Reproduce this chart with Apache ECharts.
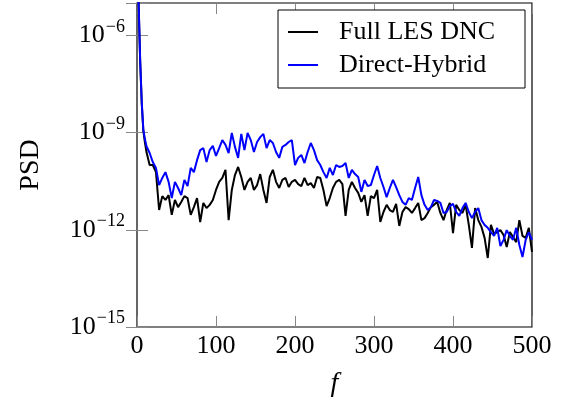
<!DOCTYPE html>
<html>
<head>
<meta charset="utf-8">
<script src="https://cdn.jsdelivr.net/npm/echarts@6/dist/echarts.min.js"></script>
<style>
html,body{margin:0;padding:0;background:#fff;}
#chart{width:569px;height:405px;}
</style>
</head>
<body>
<div id="chart"></div>
<script>
// Frequency samples
var freq = [0,2,4,6,8,10,12,16,20,24,28,32,36,40,44,48,52,56,60,64,68,72,76,80,84,88,92,96,100,104,108,112,116,120,124,128,132,136,140,144,148,152,156,160,164,168,172,176,180,184,188,192,196,200,204,208,212,216,220,224,228,232,236,240,244,248,252,256,260,264,268,272,276,280,284,288,292,296,300,304,308,312,316,320,324,328,332,336,340,344,348,352,356,360,364,368,372,376,380,384,388,392,396,400,404,408,412,416,420,424,428,432,436,440,444,448,452,456,460,464,468,472,476,480,484,488,492,496,500];

// log10(PSD), Full LES DNC
var fullLesDncLog10 = [-4.3,-5.0,-6.8,-8.1,-8.95,-9.3,-9.6,
-10.00,-10.00,-10.22,-11.39,-10.96,-11.08,-10.93,-11.54,-11.08,-11.30,-11.14,-10.96,-11.02,-11.54,-11.30,-11.02,-11.76,-11.17,-11.33,-11.23,-11.08,
-10.77,-10.52,-10.40,-10.15,-11.70,-10.77,-10.31,-10.06,-10.37,-10.77,-10.52,-10.40,-10.77,-10.62,-10.28,-10.77,-11.17,-10.37,-10.15,-10.52,-10.71,-10.46,-10.40,-10.68,-10.52,
-10.46,-10.59,-10.65,-10.40,-10.62,-10.56,-10.71,-10.37,-10.40,-10.77,-11.27,-11.02,-10.71,-10.52,-10.46,-10.59,-11.57,-10.77,-10.52,-10.71,-10.86,-11.14,-10.93,-11.57,-10.96,
-11.02,-10.77,-11.76,-11.45,-11.23,-11.39,-11.45,-11.20,-11.88,-11.45,-11.30,-11.36,-11.48,-11.33,-11.17,-11.70,-11.64,-11.48,-11.30,-11.23,-11.14,-11.48,-11.70,-11.39,-11.17,
-12.10,-11.23,-11.39,-11.48,-11.23,-11.85,-12.56,-11.33,-11.70,-11.91,-12.25,-12.87,-11.85,-12.13,-12.07,-12.01,-12.16,-12.53,-12.07,-12.22,-12.38,-11.70,-12.19,-12.25,-11.94,-12.68];

// log10(PSD), Direct-Hybrid
var directHybridLog10 = [-4.3,-4.95,-6.75,-8.05,-8.9,-9.2,-9.42,
-9.63,-9.91,-10.09,-10.62,-10.40,-10.22,-10.52,-11.02,-10.52,-10.71,-10.93,-10.46,-10.65,-10.09,-10.22,-9.85,-9.54,-9.48,-9.91,-9.54,-9.41,
-9.72,-9.48,-9.23,-9.38,-9.63,-9.01,-9.44,-9.78,-9.04,-9.54,-9.01,-9.23,-9.60,-9.29,-9.14,-9.04,-9.48,-9.23,-9.32,-9.60,-9.78,-9.44,-9.38,-9.29,-9.23,
-10.00,-9.78,-9.69,-9.94,-9.60,-9.32,-9.54,-9.85,-10.00,-10.22,-10.40,-10.09,-10.31,-10.00,-10.06,-10.03,-9.94,-10.40,-10.15,-10.28,-10.37,-10.83,-10.46,-10.65,-10.62,
-10.31,-10.03,-10.40,-10.68,-10.99,-10.71,-10.46,-10.68,-10.93,-11.14,-11.23,-11.02,-11.08,-10.71,-10.37,-10.93,-11.23,-11.39,-11.30,-11.08,-11.11,-11.17,-11.48,-11.45,-11.27,
-11.20,-11.45,-11.57,-11.33,-11.17,-11.45,-11.64,-11.45,-11.33,-11.70,-11.85,-11.94,-12.07,-12.19,-11.94,-12.50,-12.31,-12.01,-12.19,-12.31,-11.94,-12.47,-12.84,-12.31,-12.07,-12.31];

var xTicks = [0,100,200,300,400,500];
var yTickExponents = [-15,-12,-9,-6];
var seriesNames = ['Full LES DNC','Direct-Hybrid'];

function pairs(logs){
  return freq.map(function(f,i){ return [f, Math.pow(10, logs[i])]; });
}

var FONT = "'Liberation Serif','Times New Roman',serif";
var TICK_COLOR = '#888';

var chart = echarts.init(document.getElementById('chart'), null, {renderer:'canvas'});
chart.setOption({
  animation:false,
  backgroundColor:'#fff',
  grid:{left:137,right:37,top:3,bottom:78,show:true,borderColor:'#000',borderWidth:1.2,backgroundColor:'transparent',containLabel:false},
  legend:{
    data:seriesNames,
    orient:'vertical',
    left:278, top:10,
    padding:[9,14,10,10],
    itemGap:7,
    icon:'rect',
    itemWidth:30, itemHeight:2,
    backgroundColor:'#fff',
    borderColor:'#000', borderWidth:1, borderRadius:0,
    textStyle:{fontFamily:FONT,fontSize:26,color:'#000',width:172,lineHeight:26,padding:[0,0,0,16]}
  },
  xAxis:[{
    type:'value', min:xTicks[0], max:xTicks[xTicks.length-1], interval:100,
    position:'bottom',
    name:'f', nameLocation:'middle', nameGap:43,
    nameTextStyle:{fontFamily:FONT,fontSize:28,fontStyle:'italic',color:'#000'},
    axisLine:{show:false},
    axisTick:{show:true,inside:true,length:11,lineStyle:{color:TICK_COLOR,width:1}},
    axisLabel:{fontFamily:FONT,fontSize:26,color:'#000',margin:6},
    splitLine:{show:false}
  },{
    type:'value', min:xTicks[0], max:xTicks[xTicks.length-1], interval:100,
    position:'top',
    axisLine:{show:false},
    axisTick:{show:true,inside:true,length:11,lineStyle:{color:TICK_COLOR,width:1}},
    axisLabel:{show:false},
    splitLine:{show:false}
  }],
  yAxis:[{
    type:'log', logBase:10, min:1e-15, max:1e-5, interval:3,
    position:'left',
    name:'PSD', nameLocation:'middle', nameGap:92, nameRotate:90,
    nameTextStyle:{fontFamily:FONT,fontSize:28,color:'#000'},
    axisLine:{show:false},
    axisTick:{show:true,inside:true,length:11,lineStyle:{color:TICK_COLOR,width:1}},
    axisLabel:{
      margin:12,
      formatter:function(v){
        var e = Math.round(Math.log10(v));
        if (yTickExponents.indexOf(e) < 0) return '';
        return '{b|10}{s|\u2212' + (-e) + '}';
      },
      rich:{
        b:{fontFamily:FONT,fontSize:26,color:'#000'},
        s:{fontFamily:FONT,fontSize:18,color:'#000',padding:[0,0,17,1]}
      }
    },
    splitLine:{show:false}
  },{
    type:'log', logBase:10, min:1e-15, max:1e-5, interval:3,
    position:'right',
    axisLine:{show:false},
    axisTick:{show:true,inside:true,length:11,lineStyle:{color:TICK_COLOR,width:1}},
    axisLabel:{show:false},
    splitLine:{show:false}
  }],
  series:[{
    name:seriesNames[0], type:'line', data:pairs(fullLesDncLog10),
    xAxisIndex:0, yAxisIndex:0,
    symbol:'none', clip:true,
    lineStyle:{color:'#000',width:2},
    itemStyle:{color:'#000'}
  },{
    name:seriesNames[1], type:'line', data:pairs(directHybridLog10),
    xAxisIndex:0, yAxisIndex:0,
    symbol:'none', clip:true,
    lineStyle:{color:'#0000ff',width:2},
    itemStyle:{color:'#0000ff'}
  }]
});
</script>
</body>
</html>
